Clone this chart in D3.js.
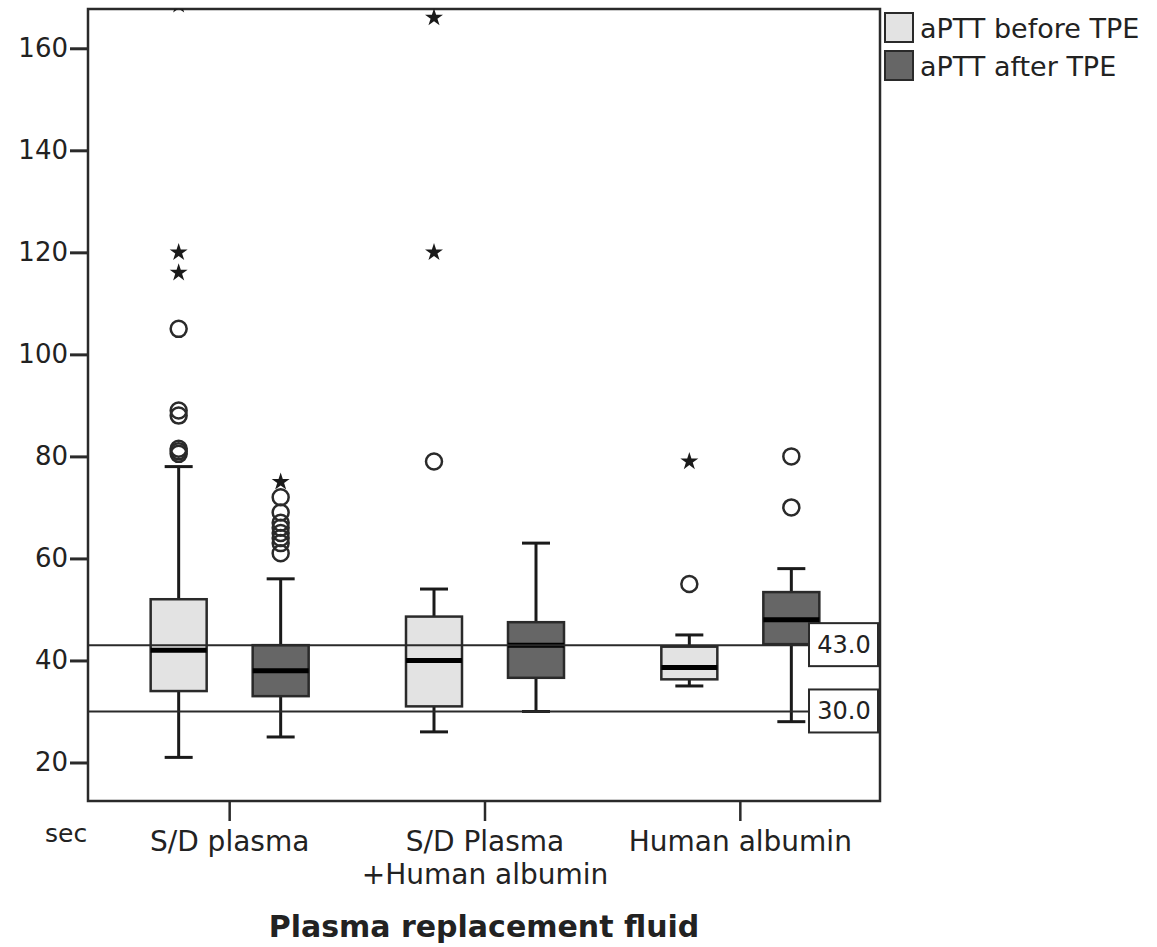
<!DOCTYPE html>
<html>
<head>
<meta charset="utf-8">
<script src="https://cdn.jsdelivr.net/npm/d3@7"></script>
<style>
  body { margin: 0; background: #fff; }
  text { font-family: "DejaVu Sans", sans-serif; fill: #222; }
</style>
</head>
<body>
<div id="chart"></div>
<script>
// data
var categories = ["S/D plasma", "S/D Plasma\n+Human albumin", "Human albumin"];
var seriesNames = ["aPTT before TPE", "aPTT after TPE"];
var refLines = [43.0, 30.0];
var yTicks = [20, 40, 60, 80, 100, 120, 140, 160];

// [whiskerLow, q1, median, q3, whiskerHigh] per category
var beforeStats = [[21, 34, 42, 52, 78], [26, 31, 40, 48.6, 54], [35, 36.3, 38.6, 42.7, 45]];
var afterStats = [[25, 33, 38, 43, 56], [30, 36.6, 43, 47.5, 63], [28, 43.2, 48, 53.4, 58]];
// outliers (circles) and extremes (stars)
var beforeOutliers = [[80.5, 81, 81.5, 88, 89, 105], [79], [55]];
var beforeExtremes = [[116, 120, 168.5], [120, 166], [79]];
var afterOutliers = [[61, 63, 64, 65, 66, 67, 69, 72], [], [70, 80]];
var afterExtremes = [[75], [], []];

var width = 1157, height = 947;
var plot = {left: 88, top: 9, right: 880, bottom: 801};

var svg = d3.select("#chart").append("svg")
  .attr("width", width)
  .attr("height", height);

var y = d3.scaleLinear().domain([12.45, 167.7]).range([plot.bottom, plot.top]);
var x0 = d3.scaleBand().domain(categories).range([102, 868]);
var x1 = d3.scalePoint().domain(seriesNames).range([-51, 51]);
var color = d3.scaleOrdinal().domain(seriesNames).range(["#e3e3e3", "#666666"]);

var boxW = 56, capW = 28;

svg.append("defs").append("clipPath").attr("id", "clip")
  .append("rect")
  .attr("x", plot.left).attr("y", plot.top)
  .attr("width", plot.right - plot.left).attr("height", plot.bottom - plot.top);

// frame
svg.append("rect")
  .attr("x", plot.left).attr("y", plot.top)
  .attr("width", plot.right - plot.left).attr("height", plot.bottom - plot.top)
  .attr("fill", "none").attr("stroke", "#2a2a2a").attr("stroke-width", 2.5);

// y axis
var yAxis = svg.append("g")
  .attr("transform", "translate(" + plot.left + ",0)")
  .call(d3.axisLeft(y).tickValues(yTicks).tickSize(18).tickPadding(2));
yAxis.select(".domain").remove();
yAxis.selectAll(".tick line").attr("stroke", "#2a2a2a").attr("stroke-width", 3);
yAxis.selectAll(".tick text").attr("font-size", 26).attr("font-family", "DejaVu Sans").attr("fill", "#222");

// x axis ticks
var xAxis = svg.append("g")
  .attr("transform", "translate(0," + plot.bottom + ")")
  .call(d3.axisBottom(x0).tickSize(20).tickFormat(""));
xAxis.select(".domain").remove();
xAxis.selectAll(".tick line").attr("stroke", "#2a2a2a").attr("stroke-width", 2.5);

var labels = svg.append("g").selectAll("text")
  .data(categories)
  .enter().append("text")
  .attr("x", function(d) { return x0(d) + x0.bandwidth() / 2; })
  .attr("y", 851)
  .attr("text-anchor", "middle")
  .attr("font-size", 28);
labels.selectAll("tspan")
  .data(function(d) { return d.split("\n"); })
  .enter().append("tspan")
  .attr("x", function() { return d3.select(this.parentNode).attr("x"); })
  .attr("dy", function(d, i) { return i ? 33 : 0; })
  .text(function(d) { return d; });

svg.append("text")
  .attr("x", 45).attr("y", 842)
  .attr("font-size", 25)
  .text("sec");

svg.append("text")
  .attr("x", 484).attr("y", 937)
  .attr("text-anchor", "middle")
  .attr("font-size", 30).attr("font-weight", "bold")
  .attr("fill", "#111")
  .text("Plasma replacement fluid");

// boxes
var allStats = [beforeStats, afterStats];
var allOutliers = [beforeOutliers, afterOutliers];
var allExtremes = [beforeExtremes, afterExtremes];

var g = svg.append("g").attr("clip-path", "url(#clip)");

seriesNames.forEach(function(s, si) {
  categories.forEach(function(c, ci) {
    var st = allStats[si][ci];
    var cx = x0(c) + x0.bandwidth() / 2 + x1(s);
    var bg = g.append("g");

    // whiskers
    bg.append("line")
      .attr("x1", cx).attr("x2", cx)
      .attr("y1", y(st[0])).attr("y2", y(st[1]))
      .attr("stroke", "#1a1a1a").attr("stroke-width", 3);
    bg.append("line")
      .attr("x1", cx).attr("x2", cx)
      .attr("y1", y(st[3])).attr("y2", y(st[4]))
      .attr("stroke", "#1a1a1a").attr("stroke-width", 3);
    [st[0], st[4]].forEach(function(v) {
      bg.append("line")
        .attr("x1", cx - capW / 2).attr("x2", cx + capW / 2)
        .attr("y1", y(v)).attr("y2", y(v))
        .attr("stroke", "#1a1a1a").attr("stroke-width", 3);
    });

    bg.append("rect")
      .attr("x", cx - boxW / 2).attr("y", y(st[3]))
      .attr("width", boxW).attr("height", y(st[1]) - y(st[3]))
      .attr("fill", color(s)).attr("stroke", "#2a2a2a").attr("stroke-width", 2.5);

    bg.append("line")
      .attr("x1", cx - boxW / 2).attr("x2", cx + boxW / 2)
      .attr("y1", y(st[2])).attr("y2", y(st[2]))
      .attr("stroke", "#000").attr("stroke-width", 5);

    bg.selectAll("circle")
      .data(allOutliers[si][ci])
      .enter().append("circle")
      .attr("cx", cx).attr("cy", function(d) { return y(d); })
      .attr("r", 8)
      .attr("fill", "none").attr("stroke", "#2a2a2a").attr("stroke-width", 2.5);

    bg.selectAll(".star")
      .data(allExtremes[si][ci])
      .enter().append("path")
      .attr("class", "star")
      .attr("transform", function(d) { return "translate(" + cx + "," + y(d) + ")"; })
      .attr("d", d3.symbol().type(d3.symbolStar).size(100))
      .attr("fill", "#1a1a1a");
  });
});

// reference lines
svg.selectAll(".ref")
  .data(refLines)
  .enter().append("line")
  .attr("class", "ref")
  .attr("x1", plot.left).attr("x2", plot.right)
  .attr("y1", function(d) { return y(d); })
  .attr("y2", function(d) { return y(d); })
  .attr("stroke", "#2a2a2a").attr("stroke-width", 2);

var refLab = svg.selectAll(".reflab")
  .data(refLines)
  .enter().append("g")
  .attr("class", "reflab")
  .attr("transform", function(d) { return "translate(809," + (y(d) - 22) + ")"; });
refLab.append("rect")
  .attr("width", 69).attr("height", 43)
  .attr("fill", "#fff").attr("stroke", "#2a2a2a").attr("stroke-width", 2);
refLab.append("text")
  .attr("x", 35).attr("y", 30)
  .attr("text-anchor", "middle")
  .attr("font-size", 24)
  .text(function(d) { return d.toFixed(1); });

// legend
var legend = svg.selectAll(".legend")
  .data(seriesNames)
  .enter().append("g")
  .attr("class", "legend")
  .attr("transform", function(d, i) { return "translate(885," + (13 + i * 38) + ")"; });
legend.append("rect")
  .attr("width", 28).attr("height", 29)
  .attr("fill", function(d) { return color(d); })
  .attr("stroke", "#2a2a2a").attr("stroke-width", 2);
legend.append("text")
  .attr("x", 35).attr("y", 25)
  .attr("font-size", 27)
  .text(function(d) { return d; });
</script>
</body>
</html>
